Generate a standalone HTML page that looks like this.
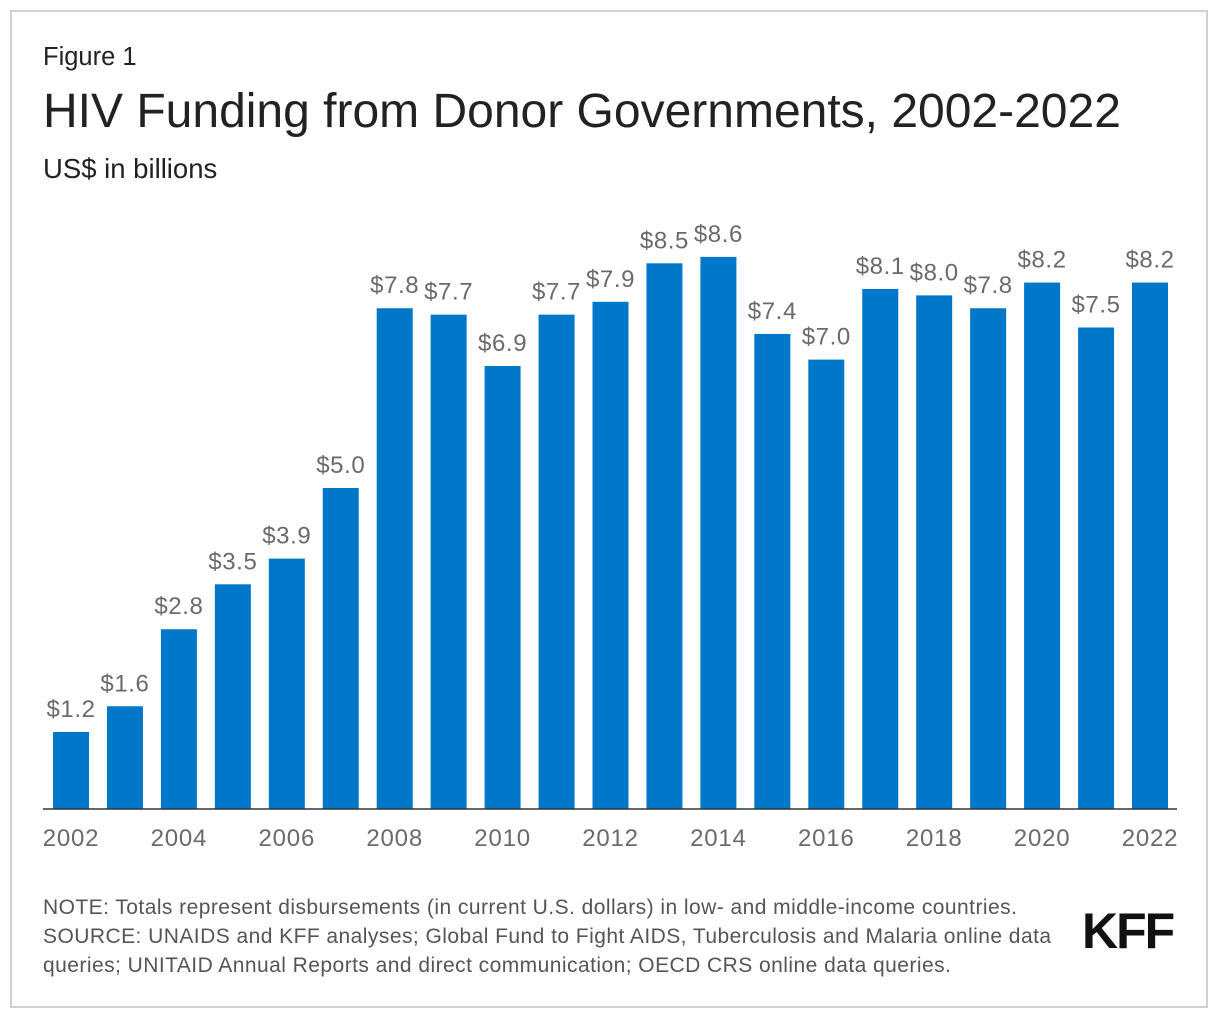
<!DOCTYPE html>
<html><head><meta charset="utf-8">
<style>
body{margin:0;width:1220px;height:1020px;background:#fff;font-family:"Liberation Sans",sans-serif;position:relative;overflow:hidden}
.frame{position:absolute;left:10px;top:10px;width:1198px;height:998px;border:2px solid #d0d0d0;box-sizing:border-box}
.t{position:absolute;left:43px;white-space:nowrap}
</style></head><body>
<div class="frame"></div>
<div class="t" style="top:43px;font-size:25.5px;color:#222">Figure 1</div>
<div class="t" style="top:84px;font-size:48px;color:#222">HIV Funding from Donor Governments, 2002-2022</div>
<div class="t" style="top:153px;font-size:27.5px;color:#222">US$ in billions</div>
<svg id="chart" width="1220" height="1020" style="position:absolute;left:0;top:0"></svg>
<div class="t" style="top:893px;font-size:21px;letter-spacing:0.45px;color:#555;line-height:29px">NOTE: Totals represent disbursements (in current U.S. dollars) in low- and middle-income countries.<br>SOURCE: UNAIDS and KFF analyses; Global Fund to Fight AIDS, Tuberculosis and Malaria online data<br>queries; UNITAID Annual Reports and direct communication; OECD CRS online data queries.</div>
<div style="position:absolute;left:1082px;top:902px;font-size:50px;font-weight:bold;color:#111;letter-spacing:-2px">KFF</div>
<script>
const years=[2002,2003,2004,2005,2006,2007,2008,2009,2010,2011,2012,2013,2014,2015,2016,2017,2018,2019,2020,2021,2022];
const values=[1.2,1.6,2.8,3.5,3.9,5.0,7.8,7.7,6.9,7.7,7.9,8.5,8.6,7.4,7.0,8.1,8.0,7.8,8.2,7.5,8.2];
const tickYears=[2002,2004,2006,2008,2010,2012,2014,2016,2018,2020,2022];
const NS="http://www.w3.org/2000/svg";
const svg=document.getElementById('chart');
const x0=53,step=53.95,bw=36,base=809,scale=64.2;
const xPos=i=>x0+i*step;
const yPos=v=>base-v*scale;
function mk(t,a){const e=document.createElementNS(NS,t);for(const k in a)e.setAttribute(k,a[k]);svg.appendChild(e);return e;}
values.forEach((v,i)=>{
 const r=mk('rect',{x:xPos(i),y:yPos(v),width:bw,height:base-yPos(v),fill:'#0077c8'});
 
 
 const t=mk('text',{x:xPos(i)+bw/2,y:yPos(v)-15,'text-anchor':'middle','font-size':'24','letter-spacing':'0.6','fill':'#6a6a6a','font-family':'Liberation Sans, sans-serif'});
 t.textContent='$'+v.toFixed(1);
 
 
});
const ax=mk('line',{x1:43,x2:1177,y1:base,y2:base,stroke:'#333','stroke-width':1.5});


tickYears.forEach(y=>{
 const i=years.indexOf(y);
 const t=mk('text',{x:xPos(i)+bw/2,y:846,'text-anchor':'middle','font-size':'24','letter-spacing':'0.8','fill':'#6a6a6a','font-family':'Liberation Sans, sans-serif'});
 t.textContent=y;
 
 
});
</script>
</body></html>
